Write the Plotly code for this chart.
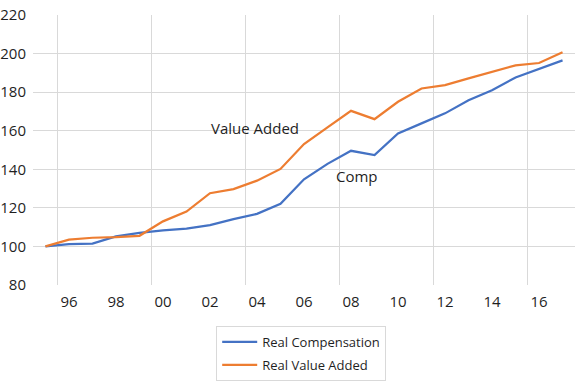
import plotly.graph_objects as go

years = list(range(1995, 2018))
real_comp = [100, 101.2, 101.5, 105.2, 107, 108.3, 109.2, 111, 114.2, 116.9, 122.1,
             134.8, 142.8, 149.6, 147.4, 158.6, 163.8, 169, 175.8, 181, 187.6, 192.2, 196.5]
real_va = [100, 103.5, 104.5, 104.8, 105.5, 113, 118.1, 127.6, 129.7, 134.1, 140.2,
           153.1, 161.7, 170.3, 166, 175, 181.9, 183.6, 187.1, 190.5, 193.9, 195.1, 200.7]

x_tick_vals = list(range(1996, 2017, 2))
x_tick_text = ["96", "98", "00", "02", "04", "06", "08", "10", "12", "14", "16"]
x_grid_vals = [1995.5, 1999.5, 2003.5, 2007.5, 2011.5, 2015.5]
y_grid_vals = [100, 120, 140, 160, 180, 200]
y_edge_vals = [80, 220]

FONT = "Open Sans"
TXT = "#1f1f1f"
GRID = "#d9d9d9"

fig = go.Figure()
fig.add_trace(go.Scatter(x=years, y=real_comp, mode="lines", name="Real Compensation",
                         legendgroup="a",
                         line=dict(color="#4472C4", width=2.25)))
fig.add_trace(go.Scatter(x=years, y=real_va, mode="lines", name="Real Value Added",
                         legendgroup="b",
                         line=dict(color="#ED7D31", width=2.25)))

fig.add_annotation(x=2003.9, y=161.4, text="Value Added", showarrow=False,
                   font=dict(family=FONT, size=15, color=TXT))
fig.add_annotation(x=2008.25, y=136.6, text="Comp", showarrow=False,
                   font=dict(family=FONT, size=15, color=TXT))

yr = [80, 220]
fig.update_layout(
    width=579, height=381,
    margin=dict(l=33, r=4, t=15, b=96, autoexpand=False),
    paper_bgcolor="white", plot_bgcolor="white",
    showlegend=True,
    legend=dict(x=0.338, y=-0.152, xanchor="left", yanchor="top",
                bordercolor="#d9d9d9", borderwidth=1, itemwidth=35,
                tracegroupgap=3,
                font=dict(family=FONT, size=13, color=TXT)),
    xaxis=dict(range=[1994.47, 2017.53], tickmode="array", tickvals=x_tick_vals,
               ticktext=x_tick_text, showgrid=False, zeroline=False, showline=False,
               ticks="", tickfont=dict(family=FONT, size=15, color=TXT),
               ticklabelstandoff=6, automargin=False,
               minor=dict(tickmode="array", tickvals=x_grid_vals, showgrid=True,
                          gridcolor=GRID, gridwidth=1, ticks="")),
    yaxis=dict(range=yr, tickmode="array", tickvals=y_grid_vals, showgrid=True,
               gridcolor=GRID, gridwidth=1, zeroline=False, showline=False, ticks="",
               tickfont=dict(family=FONT, size=15, color=TXT), ticklabelstandoff=6,
               automargin=False),
    yaxis2=dict(range=yr, overlaying="y", side="left", tickmode="array",
                tickvals=y_edge_vals, showgrid=False, zeroline=False, showline=False,
                ticks="", tickfont=dict(family=FONT, size=15, color=TXT),
                ticklabelstandoff=6, automargin=False),
)
# invisible helper trace so the second y axis (edge labels) is drawn
fig.add_trace(go.Scatter(x=[years[0]], y=[real_comp[0]], yaxis="y2", mode="lines",
                         showlegend=False, hoverinfo="skip", line=dict(width=0)))

fig.write_html("out.html", config={"displayModeBar": False},
               post_script="document.body.style.margin='0';")
